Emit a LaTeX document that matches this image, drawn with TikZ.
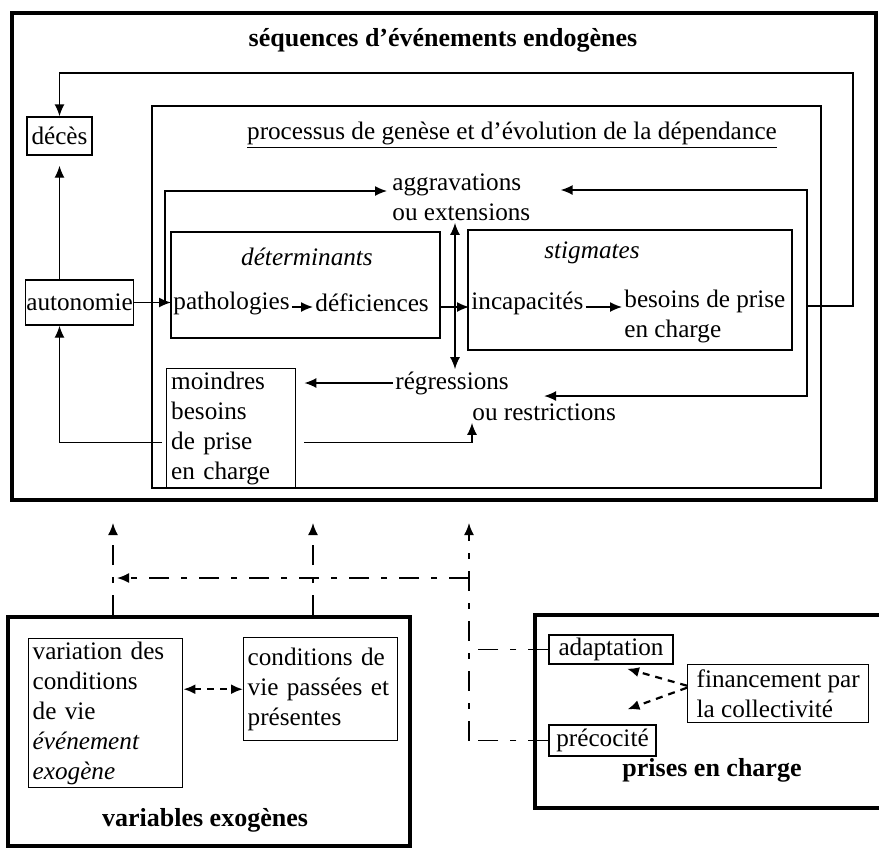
\documentclass[tikz,border=0pt]{standalone}
\usepackage{fontspec}
\setmainfont{Liberation Serif}
\usetikzlibrary{positioning, arrows.meta, calc, fit}

\tikzset{
  frame/.style={draw, line width=1.8pt, inner sep=0pt},
  thinframe/.style={draw, line width=0.7pt, inner sep=0pt},
  box/.style={draw, line width=0.7pt, inner sep=1.5pt, align=left},
  txt/.style={inner sep=1pt, align=left},
  heading/.style={font=\fontsize{13}{15}\selectfont\bfseries},
  link/.style={line width=0.7pt, ->, >={Latex[length=6pt,width=5pt]}},
  dlink/.style={link, line width=0.85pt, dash pattern=on 10pt off 6pt on 3pt off 6pt},
  shortdash/.style={link, line width=1.1pt, dash pattern=on 3.5pt off 3pt},
}

\begin{document}
\begin{tikzpicture}[x=0.5pt, y=-0.5pt, font=\fontsize{12.6}{15}\selectfont]
\useasboundingbox (0,0) rectangle (879,848);

% sequences d'evenements endogenes
\node[frame, fit={(12,13) (876,500)}] (endo) {};
\node[heading] (endotitle) at (443,40) {séquences d’événements endogènes};
\node[box, minimum width=32.5pt, minimum height=19pt] (deces) at (59.5,136) {décès};
\node[box, inner sep=0.5pt, minimum width=53.5pt, minimum height=22.5pt] (auto) at (79.5,302.5) {autonomie};

% processus
\node[thinframe, fit={(152,106) (821,488)}] (proc) {};
\node (proctitle) at (512,135) {\underline{processus de genèse et d’évolution de la dépendance}};
\node[txt, anchor=west] (aggr) at (390,197) {aggravations\\ou extensions};

\node[thinframe, fit={(171,232) (440,338)}] (det) {};
\node (dettitle) at (307,257) {\textit{déterminants}};
\node[txt, anchor=west] (patho) at (171,303) {pathologies};
\node[txt, anchor=west] (defic) at (313,303) {déficiences};

\node[thinframe, fit={(468,230) (792,350)}] (stig) {};
\node (stigtitle) at (592,253) {\textit{stigmates}};
\node[txt, anchor=west] (incap) at (469,303) {incapacités};
\node[txt, anchor=west] (besoins) at (622,316) {besoins de prise\\en charge};

\node[txt, anchor=west] (regr) at (393,383) {régressions};
\node[txt, anchor=west] (restr) at (470,412) {ou restrictions};
\node[box, anchor=north west, minimum width=64.5pt, minimum height=59.5pt,
      text width=60pt] (moind) at (166,368) {moindres\\besoins\\de prise\\en charge};

% boucles
\coordinate (loopB) at (807,306);
\coordinate (loopA) at (853,306);
\coordinate (loopTop) at (853,73);
\coordinate (fbtop) at (807,190);
\coordinate (fbbot) at (807,396);
\coordinate (brk) at (165,0);
\coordinate (vx) at (455,0);

\draw[link] (loopB) -- (loopA) -- (loopTop) -| (deces.north);
\draw[link, shorten >=14pt] (loopB) -- (fbtop) -- (fbtop -| aggr.east);
\draw[link] (loopB) -- (fbbot) -- (fbbot -| restr);
\draw[link, shorten >=5pt] (auto.north -| deces.south) -- (deces.south);
\draw[link] (auto.east) -- (auto.east -| patho.west);
\draw[link, shorten >=1.5pt] (auto.east -| brk) |- ([yshift=3pt]aggr.west);
\draw[link] ([yshift=-2pt]patho.east) -- ([yshift=-2pt]defic.west);
\draw[link] ([yshift=-2pt]incap.west -| det.east) -- ([yshift=-2pt]incap.west);
\draw[link] ([yshift=-2pt]incap.east) -- ([yshift=-2pt]incap.east -| besoins.west);
\draw[link, <->] (aggr.south -| vx) -- (regr.north -| vx);
\draw[link, shorten >=4pt] (regr.west) -- (regr.west -| moind.east);
\draw[link, shorten <=4pt] ([yshift=-7pt]moind.east) -| ([xshift=1pt]restr.south west);
\draw[link, shorten <=2pt] ([yshift=-7pt]moind.west) -| (auto.south -| deces.south);

% variables exogenes
\node[frame, fit={(8,617) (410,846)}] (exo) {};
\node[box, anchor=north west, minimum width=77pt, minimum height=74.5pt,
      text width=73pt] (varcond) at (28,638)
      {variation des\\conditions\\de vie\\\textit{événement}\\\textit{exogène}};
\node[box, anchor=north west, minimum width=77pt, minimum height=51.5pt,
      text width=73pt] (condvie) at (243,637)
      {conditions de\\vie passées et\\présentes};
\node[heading] (exotitle) at (205,820) {variables exogènes};

% prises en charge
\node[frame, fit={(535,615) (884,808)}] (pec) {};
\node[box, minimum width=62pt, minimum height=14.5pt] (adapt) at (611,649.5) {adaptation};
\node[box, minimum width=53.5pt, minimum height=15.5pt] (preco) at (602.5,740.5) {précocité};
\node[box, anchor=north west, minimum width=90.5pt, minimum height=29pt] (financ) at (687,664)
      {financement par\\la collectivité};
\node[heading] (pectitle) at (712,770) {prises en charge};

% liens exogenes
\coordinate (xa) at (113,523);
\coordinate (xb) at (313,523);
\coordinate (xc) at (469,523);
\coordinate (hz) at (469,578);

\draw[dlink] (exo.north -| xa) -- (xa);
\draw[dlink] (exo.north -| xb) -- (xb);
\draw[dlink] (preco.west -| xc) -- (xc);
\draw[dlink, shorten >=2pt] (hz) -- (hz -| xa);
\draw[dlink, -] (adapt.west) -- (adapt.west -| xc);
\draw[dlink, -] (preco.west) -- (preco.west -| xc);
\draw[shortdash, <->] (varcond.east |- condvie.west) -- (condvie.west);
\draw[shortdash] ([yshift=4pt]financ.west) -- ($(adapt.south)+(16,4)$);
\draw[shortdash] ([yshift=3pt]financ.west) -- ($(preco.north)+(25,-15)$);
\end{tikzpicture}
\end{document}
